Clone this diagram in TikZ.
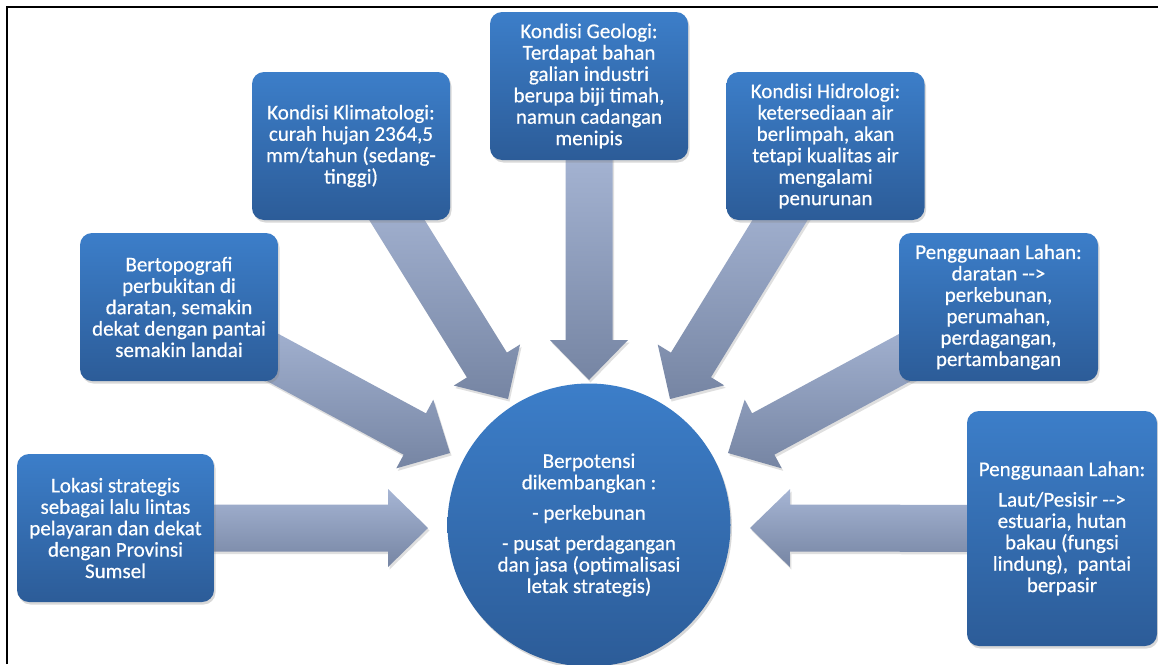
\documentclass[tikz,border=0pt]{standalone}
\usepackage{fontspec}
\setmainfont{Carlito}
\newfontfamily\boxfont{Carlito}[FakeBold=0.5]
\usetikzlibrary{calc,shadows}
\definecolor{boxtop}{RGB}{60,126,201}
\definecolor{boxbot}{RGB}{44,92,152}
\definecolor{arrtop}{RGB}{166,181,212}
\definecolor{arrbot}{RGB}{118,133,163}
\pgfdeclarelayer{bg}
\pgfsetlayers{bg,main}
\tikzset{
  boxtext/.style={font=\boxfont\fontsize{21}{21.4}\selectfont, text=white, align=center},
  infobox/.style={boxtext, rectangle, rounded corners=12pt, top color=boxtop, bottom color=boxbot,
    inner sep=0pt, minimum width=198pt, minimum height=148pt,
    drop shadow={opacity=0.3, shadow xshift=1.5pt, shadow yshift=-2.5pt}},
  hubcircle/.style={boxtext, circle, top color=boxtop, bottom color=boxbot, inner sep=0pt,
    minimum size=283pt, drop shadow={opacity=0.3, shadow xshift=1.5pt, shadow yshift=-2.5pt}},
  bigarr/.style={top color=arrtop, bottom color=arrbot,
    drop shadow={opacity=0.25, shadow xshift=1.5pt, shadow yshift=-2.5pt}},
}
\newcommand\blockarrow[2]{%
  \coordinate (s#2) at ($(#1)!60pt!(#2)$);
  \coordinate (b#2) at ($(#2)!40pt!(#1)$);
  \path[bigarr] ($(s#2)!23.5pt!90:(#2)$) -- ($(b#2)!23.5pt!90:(#2)$) -- ($(b#2)!39pt!90:(#2)$)
    -- (#2) -- ($(b#2)!39pt!-90:(#2)$) -- ($(b#2)!23.5pt!-90:(#2)$) -- ($(s#2)!23.5pt!-90:(#2)$) -- cycle;}
\begin{document}
\begin{tikzpicture}[x=1pt,y=-1pt]
\useasboundingbox (0,0) rectangle (1158,664);

\node[infobox] (klim) at (351,146) {Kondisi Klimatologi:\\curah hujan 2364,5\\mm/tahun (sedang-\\tinggi)};
\node[infobox] (geo) at (589,86) {Kondisi Geologi:\\Terdapat bahan\\galian industri\\berupa biji timah,\\namun cadangan\\menipis};
\node[infobox] (hidro) at (825.5,146) {Kondisi Hidrologi:\\ketersediaan air\\berlimpah, akan\\tetapi kualitas air\\mengalami\\penurunan};
\node[infobox] (topo) at (179,307) {Bertopografi\\perbukitan di\\daratan, semakin\\dekat dengan pantai\\semakin landai};
\node[infobox, minimum width=197pt] (lok) at (115.5,528) {Lokasi strategis\\sebagai lalu lintas\\pelayaran dan dekat\\dengan Provinsi\\Sumsel};
\node[infobox, minimum width=199pt] (gunaA) at (998.5,307) {Penggunaan Lahan:\\daratan -{}->\\perkebunan,\\perumahan,\\perdagangan,\\pertambangan};
\node[infobox, minimum width=190pt, minimum height=235pt] (gunaB) at (1062,528.5) {Penggunaan Lahan:\\[9pt]Laut/Pesisir -{}->\\estuaria, hutan\\bakau (fungsi\\lindung),\ \ pantai\\berpasir};
\node[hubcircle] (hub) at (589,525) {Berpotensi\\dikembangkan :\\[9pt]- perkebunan\\[9pt]- pusat perdagangan\\dan jasa (optimalisasi\\letak strategis)};

\coordinate (tLok) at (428,528);
\coordinate (tTopo) at (450,453);
\coordinate (tKlim) at (508,399);
\coordinate (tGeo) at (589,380);
\coordinate (tHidro) at (670,399);
\coordinate (tGunaA) at (728,453);
\coordinate (tGunaB) at (750,528);

\begin{pgfonlayer}{bg}
\fill[white] (0,0) rectangle (1158,664);
\blockarrow{lok}{tLok}
\blockarrow{topo}{tTopo}
\blockarrow{klim}{tKlim}
\blockarrow{geo}{tGeo}
\blockarrow{hidro}{tHidro}
\blockarrow{gunaA}{tGunaA}
\blockarrow{gunaB}{tGunaB}
\end{pgfonlayer}
\draw[line width=1.6pt] (7,664) -- (7,7) -- (1158,7);
\end{tikzpicture}
\end{document}
